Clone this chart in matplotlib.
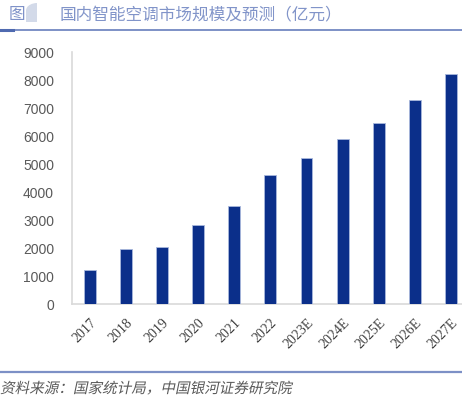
import matplotlib.pyplot as plt
from matplotlib.patches import PathPatch
from matplotlib.path import Path
from matplotlib.lines import Line2D
from matplotlib.textpath import TextPath
from matplotlib.font_manager import FontProperties
from matplotlib.transforms import Affine2D

years = ['2017', '2018', '2019', '2020', '2021', '2022',
         '2023E', '2024E', '2025E', '2026E', '2027E']
market_size = [1200, 1960, 2020, 2820, 3510, 4620,
               5230, 5880, 6480, 7270, 8230]
yticks = [0, 1000, 2000, 3000, 4000, 5000, 6000, 7000, 8000, 9000]

title = '国内智能空调市场规模及预测（亿元）'
source = '资料来源：国家统计局，中国银河证券研究院'

plt.rcParams['font.family'] = ['Noto Sans CJK SC', 'DejaVu Sans']

W, H = 462, 397
fig = plt.figure(figsize=(W / 100, H / 100), dpi=100)
ax = fig.add_axes([72 / W, 1 - 304 / H, 1 - 72 / W, 252 / H])

x = range(len(years))
ax.bar(x, market_size, width=0.33, color='#0B2F8A',
       edgecolor='#A9B8DC', linewidth=0.6, zorder=3)

ax.set_xlim(-0.5, 10.31)
ax.set_ylim(0, 9000)
ax.set_yticks(yticks)
ax.set_xticks(list(x))
ax.set_xticklabels(years, rotation=45, ha='right', va='top',
                   rotation_mode='anchor', family='Liberation Serif',
                   fontsize=10, color='#404040')
for lab in ax.get_yticklabels():
    lab.set_fontsize(10)
    lab.set_color('#595959')
    lab.set_family('Liberation Sans')
ax.tick_params(axis='x', length=0, pad=9)
ax.tick_params(axis='y', length=0, pad=13)

for side in ['top', 'right']:
    ax.spines[side].set_visible(False)
for side in ['left', 'bottom']:
    ax.spines[side].set_color('#D9D9D9')
    ax.spines[side].set_linewidth(1.2)


def px(xp, yp):
    # pixel position from the top-left corner -> display coords
    return xp, H - yp


# header
fig.text(9 / W, 1 - 15 / H, '图', fontsize=12, color='#7F92C8',
         va='center', ha='left')
verts = [px(26, 22), px(26, 11), px(26, 5), px(33, 3), px(37, 3),
         px(37, 22), px(26, 22)]
codes = [Path.MOVETO, Path.LINETO, Path.CURVE4, Path.CURVE4, Path.CURVE4,
         Path.LINETO, Path.CLOSEPOLY]
fig.patches.append(PathPatch(Path(verts, codes), transform=None,
                             facecolor='#D3DAE9', edgecolor='none'))
fig.text(60 / W, 1 - 15 / H, title, fontsize=12, color='#8194C9',
         va='center', ha='left')
fig.add_artist(Line2D([0, 1], [1 - 29.5 / H] * 2, transform=fig.transFigure,
                      color='#7D90C6', linewidth=1.4))
fig.add_artist(Line2D([0, 13 / W], [1 - 29.5 / H] * 2,
                      transform=fig.transFigure, color='#4F6AB0',
                      linewidth=2.2))

# footer
fig.add_artist(Line2D([0, 1], [1 - 372 / H] * 2, transform=fig.transFigure,
                      color='#7D90C6', linewidth=1.6))
# slanted source line (the CJK font has no italic face)
tp = TextPath((0, 0), source, size=10.5,
              prop=FontProperties(family='Noto Sans CJK SC'))
scale = fig.dpi / 72
tr = Affine2D().scale(scale).skew_deg(12, 0).translate(0, H - 393)
fig.patches.append(PathPatch(tp, transform=tr, facecolor='#595959',
                             edgecolor='none'))

fig.savefig('out.png', dpi=100)
